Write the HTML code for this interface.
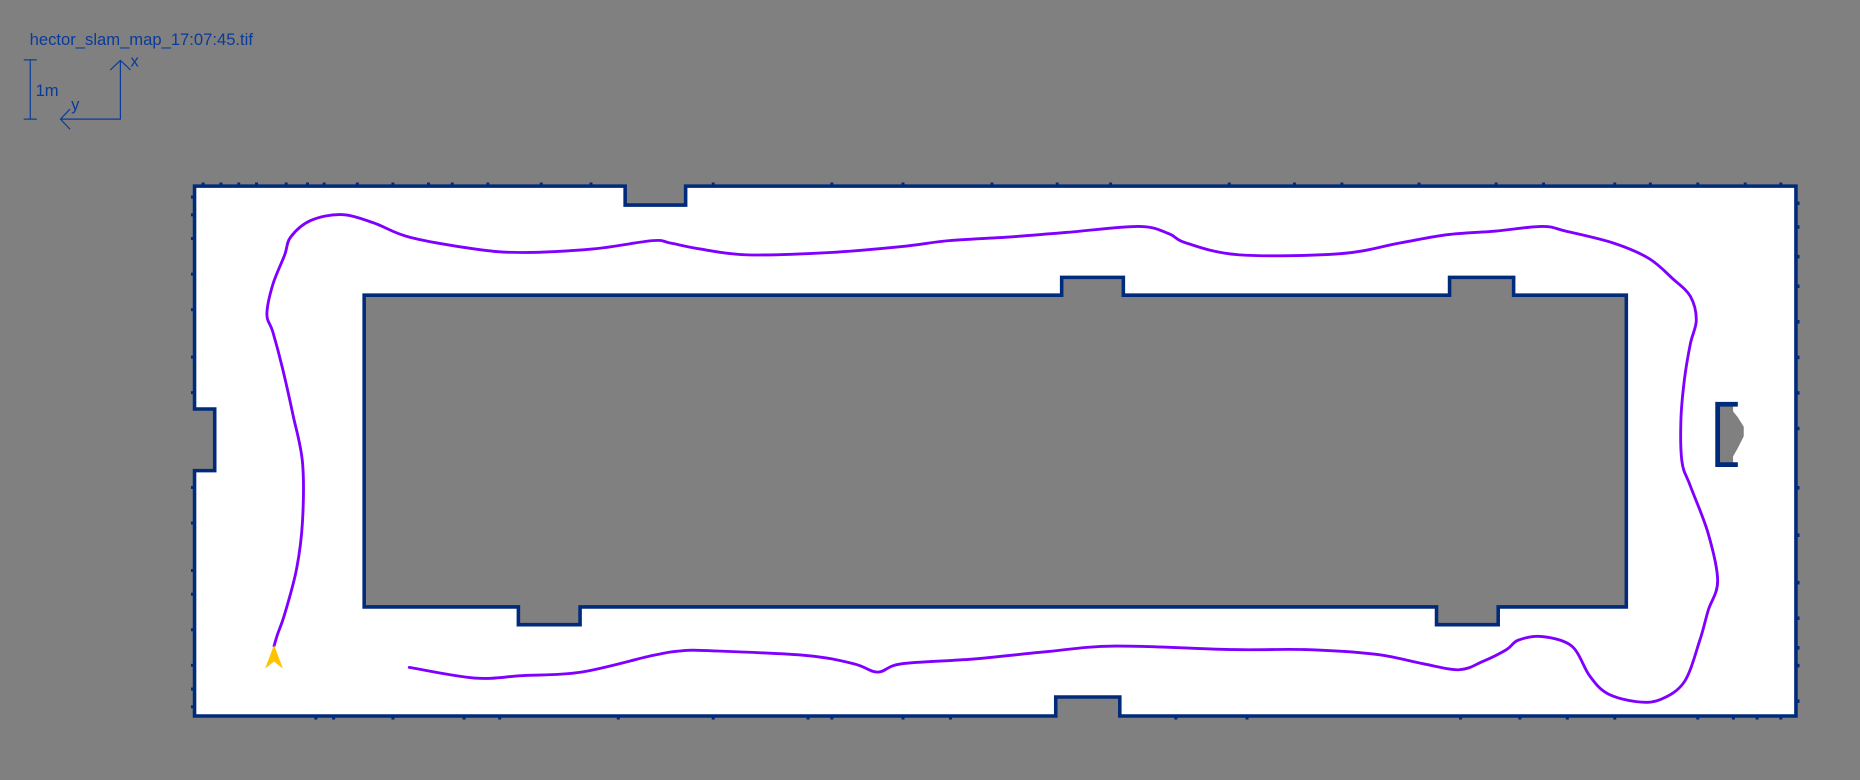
<!DOCTYPE html>
<html><head><meta charset="utf-8"><style>
html,body{margin:0;padding:0;background:#808080;}
svg{display:block;}
text{font-family:"Liberation Sans",sans-serif;fill:#0a3a9a;}
</style></head><body>
<svg width="1860" height="780" viewBox="0 0 1568 658" preserveAspectRatio="none" xmlns="http://www.w3.org/2000/svg">
<rect x="0" y="0" width="1568" height="658" fill="#808080"/>
<text x="25" y="38" font-size="14">hector_slam_map_17:07:45.tif</text>
<g stroke="#0a3a9a" stroke-width="1" fill="none">
<line x1="25.5" y1="50" x2="25.5" y2="101"/><line x1="20" y1="50.5" x2="31" y2="50.5"/><line x1="20" y1="100.5" x2="31" y2="100.5"/>
<polyline points="101.5,51 101.5,100.5 51,100.5"/>
<polyline points="93,59 101.5,51 110,59"/>
<polyline points="59,92 51,100.5 59,109"/>
</g>
<text x="30" y="81" font-size="14">1m</text>
<text x="110" y="56" font-size="14">x</text>
<text x="60" y="93" font-size="14">y</text>
<g id="map"></g>
<path id="traj" fill="none" stroke="#7f00ff" stroke-width="2.4" stroke-linejoin="round" stroke-linecap="round"/>
<polygon points="231,544 238.5,564 231,558 223.5,564" fill="#ffc400"/>
</svg>
<script>
const outerWall = [[164,157],[527,157],[527,173],[578,173],[578,157],[1514,157],[1514,604],[944,604],[944,588],[890,588],[890,604],[164,604],[164,397],[181,397],[181,345],[164,345]];
const innerWall = [[307,249],[895,249],[895,234],[947,234],[947,249],[1222,249],[1222,234],[1276,234],[1276,249],[1371,249],[1371,512],[1263,512],[1263,527],[1211,527],[1211,512],[489,512],[489,527],[437,527],[437,512],[307,512]];
const trajX = [231,234,240,250,255,255,247,238,230,225,230,240,245,262,288,315,345,400,440,500,550,565,590,630,700,760,800,850,900,960,985,1000,1045,1130,1180,1220,1260,1300,1320,1360,1390,1410,1425,1430,1425,1420,1417,1418,1425,1440,1448,1440,1433,1420,1400,1380,1355,1340,1325,1300,1280,1270,1250,1230,1200,1160,1100,1040,940,880,820,760,740,720,680,600,575,550,490,440,400,345];
const trajY = [545,535,518,480,440,390,350,310,280,265,240,215,200,186,181,188,200,210,213,210,203,205,210,215,213,208,203,200,196,191,197,205,215,214,205,198,195,191,195,205,218,235,250,270,290,320,355,390,410,450,490,515,540,575,590,592,585,570,545,537,540,548,558,565,560,552,548,548,545,550,556,560,567,560,553,549,549,553,567,570,572,563];
const topSpecklesX = [170,185,200,215,240,258,272,300,330,360,380,410,455,497,600,700,760,835,890,935,1035,1090,1130,1195,1260,1300,1360,1390,1430,1470,1500];
const bottomSpecklesX = [265,280,330,390,420,520,600,680,700,760,800,990,1050,1230,1280,1320,1360,1430,1460,1480,1500];
const leftSpecklesY = [165,180,200,230,260,300,330,410,440,480,500,530,560,580,595];
const rightSpecklesY = [170,190,215,240,270,300,330,360,410,450,490,520,545,560,590];
const NS='http://www.w3.org/2000/svg';
const map=document.getElementById('map');
function poly(pts,fill,stroke,name){
  const p=document.createElementNS(NS,'polygon');
  p.setAttribute('points',pts.map(q=>q.join(',')).join(' '));
  p.setAttribute('fill',fill);p.setAttribute('stroke',stroke);p.setAttribute('stroke-width','3');
  p.setAttribute('stroke-linejoin','miter');
  
  
  map.appendChild(p);
}
poly(outerWall,'#ffffff','#002a7a','outer-wall');
poly(innerWall,'#808080','#002a7a','inner-wall');
function speck(x,y,w,h){
  const r=document.createElementNS(NS,'rect');
  r.setAttribute('x',x);r.setAttribute('y',y);r.setAttribute('width',w);r.setAttribute('height',h);
  r.setAttribute('fill','#002a7a');
  
  
  map.appendChild(r);
}
topSpecklesX.forEach(x=>speck(x,154,2.5,2));
bottomSpecklesX.forEach(x=>speck(x,605,2.5,2));
leftSpecklesY.forEach(y=>speck(161,y,2,2.5));
rightSpecklesY.forEach(y=>speck(1515,y,2,3));
// obstacle
const ob=document.createElementNS(NS,'polygon');
ob.setAttribute('points','1449,342 1461,342 1461,347 1465,352 1470,360 1470,368 1465,378 1461,385 1461,391 1449,391');
ob.setAttribute('fill','#808080');


map.appendChild(ob);
const obw=document.createElementNS(NS,'polyline');
obw.setAttribute('points','1465,341 1448,341 1448,392 1465,392');
obw.setAttribute('fill','none');obw.setAttribute('stroke','#002a7a');obw.setAttribute('stroke-width','4');


map.appendChild(obw);
// smooth trajectory (Catmull-Rom)
const P=trajX.map((x,i)=>[x,trajY[i]]);
let d='M'+P[0][0]+','+P[0][1];
for(let i=0;i<P.length-1;i++){
  const p0=P[Math.max(0,i-1)],p1=P[i],p2=P[i+1],p3=P[Math.min(P.length-1,i+2)];
  const c1=[p1[0]+(p2[0]-p0[0])/6,p1[1]+(p2[1]-p0[1])/6];
  const c2=[p2[0]-(p3[0]-p1[0])/6,p2[1]-(p3[1]-p1[1])/6];
  d+=' C'+c1[0]+','+c1[1]+' '+c2[0]+','+c2[1]+' '+p2[0]+','+p2[1];
}
document.getElementById('traj').setAttribute('d',d);
</script>
</body></html>
